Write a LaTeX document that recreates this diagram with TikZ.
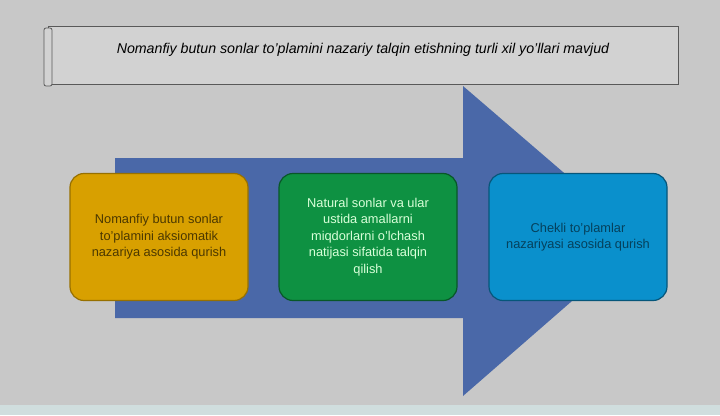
\documentclass[tikz,border=0pt]{standalone}
\usepackage{fontspec}
\setmainfont{Liberation Sans}
\begin{document}
\begin{tikzpicture}[x=1pt,y=-1pt,
  boxstyle/.style={draw, line width=1.2pt, rounded corners=14pt, minimum width=178pt, minimum height=127pt, align=center, font=\fontsize{12.8}{16.5}\selectfont, inner sep=3pt},
]
\definecolor{bg}{HTML}{C8C8C8}
\definecolor{banner}{HTML}{D2D2D2}
\definecolor{arrowblue}{HTML}{4A68A8}
\definecolor{goldbox}{HTML}{D8A000}
\definecolor{greenbox}{HTML}{0E9142}
\definecolor{bluebox}{HTML}{0A90CC}
\useasboundingbox (0,0) rectangle (720,415);
\fill[bg] (0,0) rectangle (720,415);
\fill[fill=bg!75!teal!45] (0,405) rectangle (720,415);
% banner
\draw[fill=banner, draw=gray!70!black, line width=0.8pt] (48,26) rectangle (678,84);
\draw[fill=banner, draw=gray!70!black, line width=0.8pt, rounded corners=2pt] (44,28) rectangle (52,86);
\node (title) at (363,50) {\fontsize{14.2}{16}\selectfont\itshape Nomanfiy butun sonlar to'plamini nazariy talqin etishning turli xil yo'llari mavjud};
% arrow
\fill[arrowblue] (115,158) -- (463,158) -- (463,86) -- (642,240) -- (463,396) -- (463,318) -- (115,318) -- cycle;
% boxes
\node[boxstyle, fill=goldbox, draw=goldbox!70!black, text=goldbox!35!black] (b1) at (159,237) {Nomanfiy butun sonlar\\to'plamini aksiomatik\\nazariya asosida qurish};
\node[boxstyle, fill=greenbox, draw=greenbox!60!black, text=green!15!white] (b2) at (368,237) {Natural sonlar va ular\\ustida amallarni\\miqdorlarni o'lchash\\natijasi sifatida talqin\\qilish};
\node[boxstyle, fill=bluebox, draw=bluebox!60!black, text=bluebox!45!black] (b3) at (578,237) {Chekli to'plamlar\\nazariyasi asosida qurish};
\end{tikzpicture}
\end{document}
